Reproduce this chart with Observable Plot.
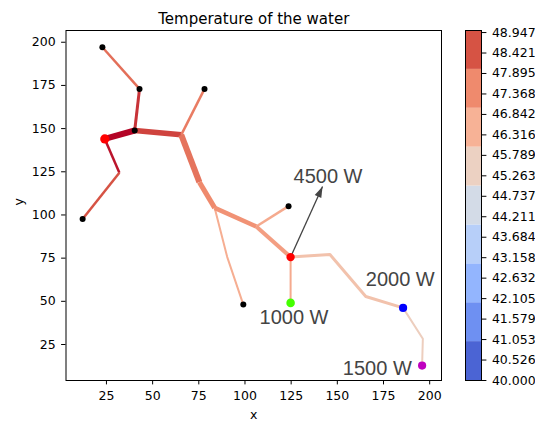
<!DOCTYPE html>
<html>
<head>
<meta charset="utf-8">
<script src="https://cdn.jsdelivr.net/npm/d3@7"></script>
<script src="https://cdn.jsdelivr.net/npm/@observablehq/plot@0.6"></script>
<style>
  html, body { margin: 0; padding: 0; background: white; }
  #wrap { position: relative; width: 535px; height: 421px; }
  #wrap svg { position: absolute; left: 0; top: 0; }
</style>
</head>
<body>
<div id="wrap"></div>
<script>
// ---------- data ----------
const title = "Temperature of the water";
const xTicks = [25, 50, 75, 100, 125, 150, 175, 200];
const yTicks = [25, 50, 75, 100, 125, 150, 175, 200];

// colour bar
const cbTickLabels = ["40.000","40.526","41.053","41.579","42.105","42.632","43.158","43.684","44.211",
                      "44.737","45.263","45.789","46.316","46.842","47.368","47.895","48.421","48.947"];
const cbBounds = [40, 41, 42, 43, 44, 45, 46, 47, 48, 49];
const cbColors = ["#4b64d4","#6e90f2","#93b5fe","#b7cff9","#d3dbe7","#ecd1c2","#f7b296","#ef8a6d","#d65344"];
const cmapLow = "#3b4cc0", cmapHigh = "#b40426";

// pipe network: edges (paths in data coords), water temperature, flow
const edgePaths = [
  [[22.8,197.1],[42.9,173.0]],
  [[42.9,173.0],[40.3,148.9]],
  [[24.1,144.0],[40.3,148.9]],
  [[24.1,144.0],[32.0,124.4]],
  [[32.0,124.4],[12.1,97.7]],
  [[40.3,148.9],[65.5,146.4]],
  [[78.1,173.0],[65.5,146.4]],
  [[65.5,146.4],[75.3,119.0]],
  [[75.3,119.0],[83.6,104.1]],
  [[83.6,104.1],[90.4,75.6],[99.1,48.1]],
  [[83.6,104.1],[106.1,93.3]],
  [[106.1,93.3],[123.6,105.1]],
  [[106.1,93.3],[124.7,75.6]],
  [[124.7,75.6],[124.7,49.1]],
  [[124.7,75.6],[146.0,77.1],[165.4,52.8],[185.6,46.2]],
  [[185.6,46.2],[196.3,28.3],[195.9,12.8]]
];
const edgeTemp = [48.0, 48.7, 49.0, 48.9, 48.5, 48.6, 47.75, 47.9, 47.5, 46.6, 47.3, 46.7, 47.0, 46.7, 46.0, 45.6];
const edgeFlow = [2.5, 3, 6, 2.5, 2.5, 5.5, 2.5, 6, 5, 2, 4.5, 2.5, 4, 2, 3, 2];

// nodes
const nodeX = [22.8, 42.9, 78.1, 40.3, 12.1, 99.1, 123.6, 24.1, 124.7, 124.7, 185.6, 195.9];
const nodeY = [197.1, 173.0, 173.0, 148.9, 97.7, 48.1, 105.1, 144.0, 75.6, 49.1, 46.2, 12.8];
const nodeKind = ["tap","tap","tap","tap","tap","tap","tap","boiler","split","heater1","heater2","heater3"];

// annotations
const labelText = ["4500 W", "2000 W", "1000 W", "1500 W"];
const labelX = [126.3, 165.4, 107.9, 153.0];
const labelY = [122.5, 62.3, 40.3, 10.9];
const arrowFrom = [124.7, 75.6];
const arrowTo = [142.0, 116.5];

// ---------- layout ----------
const W = 535, H = 421;
const mL = 65.5, mR = 94, mT = 30, mB = 41;
const xDomain = [3.1, 206.4];
const yDomain = [4.16, 206.8];

const colorDomain = [40, ...cbBounds.slice(0, -1).map(b => b + 0.5), 49];
const colorRange = [cmapLow, ...cbColors, cmapHigh];
const colorScale = {type: "linear", domain: colorDomain, range: colorRange, clamp: true};

const edgeRows = [];
edgePaths.forEach((path, i) => {
  path.forEach(([x, y]) => edgeRows.push({edge: i, x, y, temp: edgeTemp[i], w: edgeFlow[i]}));
});

const nodes = nodeX.map((x, i) => ({x, y: nodeY[i], kind: nodeKind[i]}));
const nodeStyle = {
  tap: {fill: "black", r: 3},
  boiler: {fill: "#ff0000", r: 4.6},
  split: {fill: "#ff0000", r: 4.2},
  heater1: {fill: "#44ff00", r: 4.3},
  heater2: {fill: "#0000ff", r: 4.1},
  heater3: {fill: "#bf00bf", r: 4.1}
};

const labels = labelText.map((t, i) => ({t, x: labelX[i], y: labelY[i]}));

// arrow head angle in pixel space
const sx = (W - mR - mL) / (xDomain[1] - xDomain[0]);
const sy = (H - mB - mT) / (yDomain[1] - yDomain[0]);
const angle = Math.atan2((arrowTo[0] - arrowFrom[0]) * sx, (arrowTo[1] - arrowFrom[1]) * sy) * 180 / Math.PI;
const headSymbol = {
  draw(ctx) {
    ctx.moveTo(0, 0);
    ctx.lineTo(3.6, 11);
    ctx.lineTo(-3.6, 11);
    ctx.closePath();
  }
};

const main = Plot.plot({
  width: W, height: H,
  marginLeft: mL, marginRight: mR, marginTop: mT, marginBottom: mB,
  style: {fontFamily: "DejaVu Sans", fontSize: "12.5px", background: "white", color: "black", overflow: "visible"},
  x: {domain: xDomain, axis: null},
  y: {domain: yDomain, axis: null},
  color: colorScale,
  marks: [
    Plot.line(edgeRows, {x: "x", y: "y", z: "edge", stroke: "temp", strokeWidth: "w",
      strokeLinejoin: "round", strokeLinecap: "butt"}),
    Plot.link([{a: arrowFrom, b: arrowTo}], {x1: d => d.a[0], y1: d => d.a[1], x2: d => d.b[0], y2: d => d.b[1],
      stroke: "#444", strokeWidth: 1.3}),
    Plot.dot([arrowTo], {x: d => d[0], y: d => d[1], symbol: headSymbol, r: 5, fill: "#444", stroke: "none", rotate: angle}),
    ...Object.entries(nodeStyle).map(([k, s]) =>
      Plot.dot(nodes.filter(n => n.kind === k), {x: "x", y: "y", r: s.r, fill: s.fill, stroke: "none"})),
    Plot.text(labels, {x: "x", y: "y", text: "t", textAnchor: "start", lineAnchor: "middle",
      fontFamily: "Liberation Sans", fontSize: 20, fill: "#444"}),
    Plot.frame({stroke: "black", strokeWidth: 1}),
    Plot.axisX({ticks: xTicks, tickSize: 4.4, tickPadding: 6.3, label: null, fontSize: 12.5}),
    Plot.axisY({ticks: yTicks, tickSize: 4.4, tickPadding: 6, label: null, fontSize: 12.5}),
    Plot.text(["x"], {text: d => d, frameAnchor: "bottom", dy: 34, lineAnchor: "middle", fontSize: 12.5}),
    Plot.text(["y"], {text: d => d, frameAnchor: "left", dx: -47, rotate: -90, lineAnchor: "middle", fontSize: 12.5}),
    Plot.text([title], {text: d => d, frameAnchor: "top", dy: -11.6, lineAnchor: "middle", fontSize: 15})
  ]
});

const bands = cbBounds.slice(0, -1).map((lo, i) => ({lo, hi: cbBounds[i + 1], mid: lo + 0.5}));
const cbTickValues = cbTickLabels.map(Number);

const cbar = Plot.plot({
  width: W, height: H,
  marginLeft: 465, marginRight: W - 481, marginTop: mT, marginBottom: mB,
  style: {fontFamily: "DejaVu Sans", fontSize: "12.5px", background: "transparent", color: "black", overflow: "visible"},
  x: {domain: [0, 1], axis: null},
  y: {domain: [40, 49], axis: null},
  color: colorScale,
  marks: [
    Plot.rect(bands, {y1: "lo", y2: "hi", fill: "mid"}),
    Plot.frame({stroke: "black", strokeWidth: 1}),
    Plot.axisY({anchor: "right", ticks: cbTickValues, tickFormat: d => d.toFixed(3),
      tickSize: 4.4, tickPadding: 6, label: null, fontSize: 12.5})
  ]
});

const wrap = document.getElementById("wrap");
wrap.appendChild(main);
wrap.appendChild(cbar);
</script>
</body>
</html>
